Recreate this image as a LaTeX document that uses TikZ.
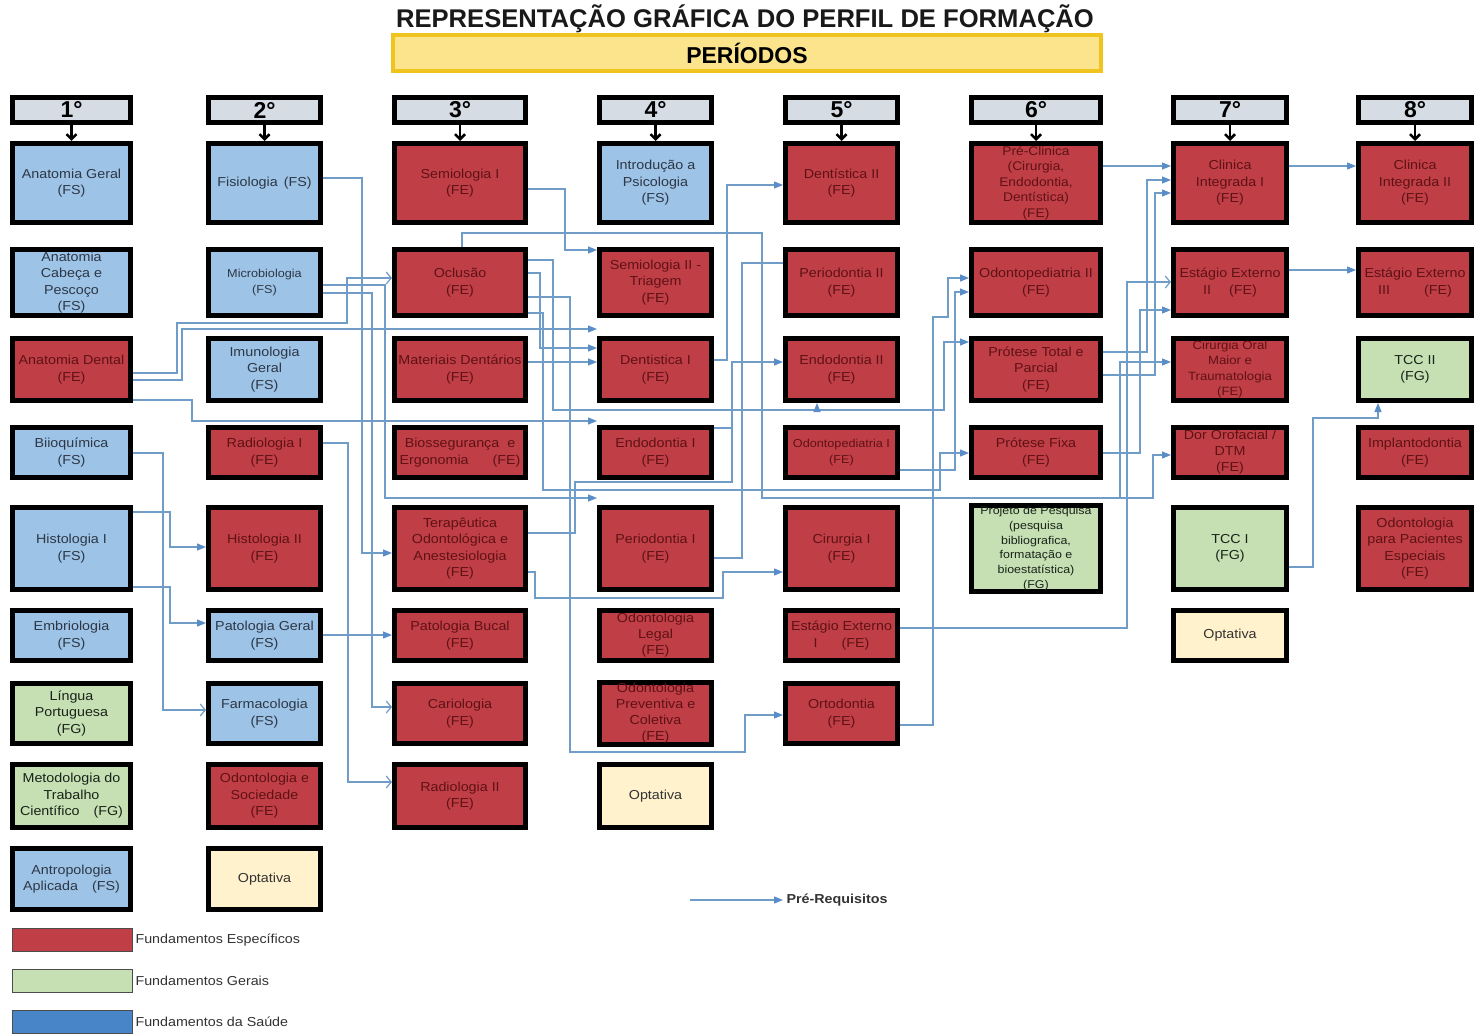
\documentclass[tikz,border=0pt]{standalone}
\usepackage{fontspec}
\setmainfont{Liberation Sans}[FakeStretch=1.1]
\newfontfamily\titlefont{Liberation Sans}
\usetikzlibrary{arrows.meta}
\definecolor{feC}{RGB}{192,62,70}
\definecolor{fsC}{RGB}{157,195,230}
\definecolor{fgC}{RGB}{198,224,180}
\definecolor{opC}{RGB}{255,242,204}
\definecolor{hdrC}{RGB}{214,220,228}
\definecolor{feT}{RGB}{95,18,22}
\definecolor{fsT}{RGB}{45,55,70}
\definecolor{fgT}{RGB}{25,35,25}
\definecolor{connC}{RGB}{112,156,200}
\definecolor{tipC}{RGB}{90,140,200}
\definecolor{perFill}{RGB}{252,228,140}
\definecolor{perDraw}{RGB}{240,196,30}
\definecolor{lgBlue}{RGB}{72,132,200}
\tikzset{
 courseBox/.style={draw=black, line width=5pt, align=center, inner sep=1pt, font=\fontsize{13}{16.5}\selectfont},
 feBox/.style={courseBox, fill=feC, text=feT},
 fsBox/.style={courseBox, fill=fsC, text=fsT},
 fgBox/.style={courseBox, fill=fgC, text=fgT},
 opBox/.style={courseBox, fill=opC, text=black!80},
 hdrBox/.style={draw=black, line width=4.5pt, fill=hdrC, inner sep=0pt, font=\titlefont\bfseries\fontsize{23}{23}\selectfont},
 conn/.style={draw=connC, line width=1.2pt, -{Triangle[length=9pt,width=7pt,color=tipC]}},
 openc/.style={draw=connC, line width=1.2pt, -{Straight Barb[length=5pt,width=12pt]}},
 joinline/.style={draw=connC, line width=1.2pt},
 hdrArrow/.style={draw=black, line width=2.5pt, -{Straight Barb[length=5pt,width=10pt]}},
 legBox/.style={draw=black!70, line width=0.8pt, minimum width=120, minimum height=23, inner sep=0pt},
 legText/.style={anchor=west, text=black!80, font=\fontsize{13}{13}\selectfont},
}
\newcommand\mkcourse[7]{\node[#2, minimum width={#5-#3-5}, minimum height={#6-#4-5}] (#1) at ({(#3+#5)/2},{(#4+#6)/2}) {#7};}
\begin{document}
\begin{tikzpicture}[x=1pt,y=-1pt]
\useasboundingbox (0,0) rectangle (1481,1035);
\fill[white] (0,0) rectangle (1481,1035);
% title
\node[text=black!90] (title) at (745,19) {\titlefont\bfseries\fontsize{25.6}{25.6}\selectfont REPRESENTAÇÃO GRÁFICA DO PERFIL DE FORMAÇÃO};
\node[draw=perDraw, line width=4pt, fill=perFill, minimum width=708, minimum height=36, inner sep=0pt] (per) at (747,53) {\titlefont\bfseries\fontsize{23}{23}\selectfont PERÍODOS};
% headers
\mkcourse{H1}{hdrBox}{10}{95}{133}{125}{1°}
\mkcourse{H2}{hdrBox}{206}{95}{323}{125}{2°}
\mkcourse{H3}{hdrBox}{392}{95}{528}{125}{3°}
\mkcourse{H4}{hdrBox}{597}{95}{714}{125}{4°}
\mkcourse{H5}{hdrBox}{783}{95}{900}{125}{5°}
\mkcourse{H6}{hdrBox}{969}{95}{1103}{125}{6°}
\mkcourse{H7}{hdrBox}{1171}{95}{1289}{125}{7°}
\mkcourse{H8}{hdrBox}{1356}{95}{1474}{125}{8°}
% column 1
\mkcourse{a1}{fsBox}{10}{141}{133}{225}{Anatomia Geral\\(FS)}
\mkcourse{a2}{fsBox}{10}{247}{133}{318}{Anatomia\\Cabeça e\\Pescoço\\(FS)}
\mkcourse{a3}{feBox}{10}{336}{133}{403}{Anatomia Dental\\(FE)}
\mkcourse{a4}{fsBox}{10}{425}{133}{480}{Biioquímica\\(FS)}
\mkcourse{a5}{fsBox}{10}{505}{133}{592}{Histologia I\\(FS)}
\mkcourse{a6}{fsBox}{10}{608}{133}{663}{Embriologia\\(FS)}
\mkcourse{a7}{fgBox}{10}{681}{133}{746}{Língua\\Portuguesa\\(FG)}
\mkcourse{a8}{fgBox}{10}{762}{133}{830}{Metodologia do\\Trabalho\\Científico\hspace{14pt}(FG)}
\mkcourse{a9}{fsBox}{10}{846}{133}{912}{Antropologia\\Aplicada\hspace{14pt}(FS)}
% column 2
\mkcourse{b1}{fsBox}{206}{141}{323}{225}{Fisiologia\hspace{6pt}(FS)}
\mkcourse{b2}{fsBox,font=\fontsize{11.5}{16.5}\selectfont}{206}{247}{323}{318}{Microbiologia\\(FS)}
\mkcourse{b3}{fsBox}{206}{336}{323}{403}{Imunologia\\Geral\\(FS)}
\mkcourse{b4}{feBox}{206}{425}{323}{480}{Radiologia I\\(FE)}
\mkcourse{b5}{feBox}{206}{505}{323}{592}{Histologia II\\(FE)}
\mkcourse{b6}{fsBox}{206}{608}{323}{663}{Patologia Geral\\(FS)}
\mkcourse{b7}{fsBox}{206}{681}{323}{746}{Farmacologia\\(FS)}
\mkcourse{b8}{feBox}{206}{762}{323}{830}{Odontologia e\\Sociedade\\(FE)}
\mkcourse{b9}{opBox}{206}{846}{323}{912}{Optativa}
% column 3
\mkcourse{c1}{feBox}{392}{141}{528}{225}{Semiologia I\\(FE)}
\mkcourse{c2}{feBox}{392}{247}{528}{318}{Oclusão\\(FE)}
\mkcourse{c3}{feBox}{392}{336}{528}{403}{Materiais Dentários\\(FE)}
\mkcourse{c4}{feBox}{392}{425}{528}{480}{Biossegurança\ \ e\\Ergonomia\hspace{24pt}(FE)}
\mkcourse{c5}{feBox}{392}{505}{528}{592}{Terapêutica\\Odontológica e\\Anestesiologia\\(FE)}
\mkcourse{c6}{feBox}{392}{608}{528}{663}{Patologia Bucal\\(FE)}
\mkcourse{c7}{feBox}{392}{681}{528}{746}{Cariologia\\(FE)}
\mkcourse{c8}{feBox}{392}{762}{528}{830}{Radiologia II\\(FE)}
% column 4
\mkcourse{d1}{fsBox}{597}{141}{714}{225}{Introdução a\\Psicologia\\(FS)}
\mkcourse{d2}{feBox}{597}{247}{714}{318}{Semiologia II -\\Triagem\\(FE)}
\mkcourse{d3}{feBox}{597}{336}{714}{403}{Dentistica I\\(FE)}
\mkcourse{d4}{feBox}{597}{425}{714}{480}{Endodontia I\\(FE)}
\mkcourse{d5}{feBox}{597}{505}{714}{592}{Periodontia I\\(FE)}
\mkcourse{d6}{feBox,font=\fontsize{13}{16}\selectfont}{597}{608}{714}{663}{Odontologia\\Legal\\(FE)}
\mkcourse{d7}{feBox,font=\fontsize{13}{16}\selectfont}{597}{681}{714}{746}{Odontologia\\Preventiva e\\Coletiva\\(FE)}
\mkcourse{d8}{opBox}{597}{762}{714}{830}{Optativa}
% column 5
\mkcourse{e1}{feBox}{783}{141}{900}{225}{Dentística II\\(FE)}
\mkcourse{e2}{feBox}{783}{247}{900}{318}{Periodontia II\\(FE)}
\mkcourse{e3}{feBox}{783}{336}{900}{403}{Endodontia II\\(FE)}
\mkcourse{e4}{feBox,font=\fontsize{11.5}{16}\selectfont}{783}{425}{900}{480}{Odontopediatria I\\(FE)}
\mkcourse{e5}{feBox}{783}{505}{900}{592}{Cirurgia I\\(FE)}
\mkcourse{e6}{feBox}{783}{608}{900}{663}{Estágio Externo\\I\hspace{24pt}(FE)}
\mkcourse{e7}{feBox}{783}{681}{900}{746}{Ortodontia\\(FE)}
% column 6
\mkcourse{f1}{feBox,font=\fontsize{12.5}{15.5}\selectfont}{969}{141}{1103}{225}{Pré-Clinica\\(Cirurgia,\\Endodontia,\\Dentística)\\(FE)}
\mkcourse{f2}{feBox}{969}{247}{1103}{318}{Odontopediatria II\\(FE)}
\mkcourse{f3}{feBox}{969}{336}{1103}{403}{Prótese Total e\\Parcial\\(FE)}
\mkcourse{f4}{feBox}{969}{425}{1103}{480}{Prótese Fixa\\(FE)}
\mkcourse{f5}{fgBox,font=\fontsize{11.3}{14.7}\selectfont}{969}{505}{1103}{592}{Projeto de Pesquisa\\(pesquisa\\bibliografica,\\formatação e\\bioestatística)\\(FG)}
% column 7
\mkcourse{g1}{feBox}{1171}{141}{1289}{225}{Clinica\\Integrada I\\(FE)}
\mkcourse{g2}{feBox}{1171}{247}{1289}{318}{Estágio Externo\\II\hspace{18pt}(FE)}
\mkcourse{g3}{feBox,font=\fontsize{12}{15.5}\selectfont}{1171}{336}{1289}{403}{Cirurgia Oral\\Maior e\\Traumatologia\\(FE)}
\mkcourse{g4}{feBox,font=\fontsize{13}{16}\selectfont}{1171}{425}{1289}{480}{Dor Orofacial /\\DTM\\(FE)}
\mkcourse{g5}{fgBox}{1171}{505}{1289}{592}{TCC I\\(FG)}
\mkcourse{g6}{opBox}{1171}{608}{1289}{663}{Optativa}
% column 8
\mkcourse{h1}{feBox}{1356}{141}{1474}{225}{Clinica\\Integrada II\\(FE)}
\mkcourse{h2}{feBox}{1356}{247}{1474}{318}{Estágio Externo\\III\hspace{34pt}(FE)}
\mkcourse{h3}{fgBox}{1356}{336}{1474}{403}{TCC II\\(FG)}
\mkcourse{h4}{feBox}{1356}{425}{1474}{480}{Implantodontia\\(FE)}
\mkcourse{h5}{feBox}{1356}{505}{1474}{592}{Odontologia\\para Pacientes\\Especiais\\(FE)}
% header arrows
\foreach \hh/\cc in {H1/a1,H2/b1,H3/c1,H4/d1,H5/e1,H6/f1,H7/g1,H8/h1}
  \draw[hdrArrow] (\hh.south) -- (\cc.north);
% connectors
\draw[openc] (a3.east|-0,373) -- (177,373) -- (177,323) -- (347,323) -- (347,278) -- (c2.west|-0,278);
\draw[conn] (a3.east|-0,380) -- (182,380) -- (182,329) -- (d3.west|-0,329);
\draw[conn] (a3.east|-0,400) -- (192,400) -- (192,421) -- (d4.west|-0,421);
\draw[openc] (a4.east|-0,453) -- (163,453) -- (163,710) -- (b7.west|-0,710);
\draw[conn] (a5.east|-0,512) -- (170,512) -- (170,547) -- (b5.west|-0,547);
\draw[conn] (a5.east|-0,587) -- (170,587) -- (170,623) -- (b6.west|-0,623);
\draw[conn] (b1.east|-0,178) -- (362,178) -- (362,553) -- (c5.west|-0,553);
\draw[conn] (b2.east|-0,285) -- (385,285) -- (385,498) -- (d5.west|-0,498);
\draw[openc] (b2.east|-0,293) -- (372,293) -- (372,707) -- (c7.west|-0,707);
\draw[openc] (b4.east|-0,443) -- (348,443) -- (348,782) -- (c8.west|-0,782);
\draw[conn] (b6.east|-0,635) -- (c6.west|-0,635);
\draw[conn] (c1.east|-0,189) -- (565,189) -- (565,250) -- (d2.west|-0,250);
\draw[conn] (c3.east|-0,362) -- (d3.west|-0,362);
\draw[conn] (c2.east|-0,273) -- (540,273) -- (540,348) -- (d3.west|-0,348);
\draw[conn] (c2.east|-0,297) -- (570,297) -- (570,752) -- (745,752) -- (745,715) -- (e7.west|-0,715);
\draw[conn] (c2.east|-0,313) -- (543,313) -- (543,490) -- (940,490) -- (940,453) -- (f4.west|-0,453);
\draw[conn] (c2.east|-0,260) -- (553,260) -- (553,410) -- (944,410) -- (944,342) -- (f3.west|-0,342);
\draw[conn] (817,410) -- (817,0|-e3.south);
\draw[conn] (462,0|-c2.north) -- (462,233) -- (762,233) -- (762,498) -- (1120,498) -- (1120,362) -- (g3.west|-0,362);
\draw[conn] (1120,498) -- (1153,498) -- (1153,455) -- (g4.west|-0,455);
\draw[conn] (d3.east|-0,360) -- (727,360) -- (727,185) -- (e1.west|-0,185);
\draw[joinline] (d5.east|-0,558) -- (742,558) -- (742,263) -- (e2.west|-0,263);
\draw[conn] (c5.east|-0,533) -- (575,533) -- (575,482) -- (732,482) -- (732,362) -- (e3.west|-0,362);
\draw[joinline] (d4.east|-0,428) -- (732,428);
\draw[conn] (c5.east|-0,572) -- (535,572) -- (535,598) -- (723,598) -- (723,572) -- (e5.west|-0,572);
\draw[conn] (e4.east|-0,470) -- (955,470) -- (955,292) -- (f2.west|-0,292);
\draw[conn] (e7.east|-0,725) -- (933,725) -- (933,317) -- (948,317) -- (948,278) -- (f2.west|-0,278);
\draw[openc] (e6.east|-0,628) -- (1127,628) -- (1127,282) -- (g2.west|-0,282);
\draw[conn] (f1.east|-0,166) -- (g1.west|-0,166);
\draw[conn] (f3.east|-0,352) -- (1147,352) -- (1147,180) -- (g1.west|-0,180);
\draw[conn] (f3.east|-0,375) -- (1155,375) -- (1155,193) -- (g1.west|-0,193);
\draw[conn] (f4.east|-0,453) -- (1140,453) -- (1140,310) -- (g2.west|-0,310);
\draw[conn] (g1.east|-0,166) -- (h1.west|-0,166);
\draw[conn] (g2.east|-0,270) -- (h2.west|-0,270);
\draw[conn] (g5.east|-0,567) -- (1313,567) -- (1313,418) -- (1378,418) -- (1378,0|-h3.south);
% legend
\node[legBox, fill=feC] (lgR) at (72,940) {};
\node[legText] (lgRt) at (132,940) {Fundamentos Específicos};
\node[legBox, fill=fgC] (lgG) at (72,981) {};
\node[legText] (lgGt) at (132,981) {Fundamentos Gerais};
\node[legBox, fill=lgBlue] (lgB) at (72,1022) {};
\node[legText] (lgBt) at (132,1022) {Fundamentos da Saúde};
\node[anchor=west, text=black!80, font=\bfseries\fontsize{13}{13}\selectfont] (lgP) at (783,900) {Pré-Requisitos};
\coordinate (lgS) at (690,0|-lgP.west);
\draw[conn] (lgS) -- (lgP.west);
\end{tikzpicture}
\end{document}
